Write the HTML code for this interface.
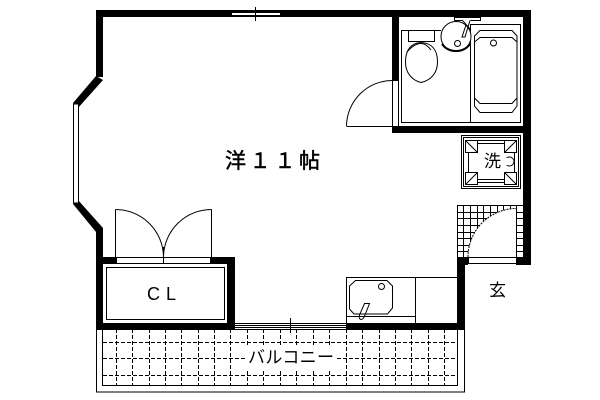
<!DOCTYPE html>
<html><head><meta charset="utf-8"><style>
html,body{margin:0;padding:0;background:#fff}
svg{display:block}
text{font-family:"Liberation Sans","Noto Sans CJK JP",sans-serif;fill:#000}
</style></head><body>
<svg width="600" height="400" viewBox="0 0 600 400" xmlns="http://www.w3.org/2000/svg">
<rect width="600" height="400" fill="#fff"/>
<!-- balcony -->
<g fill="none" stroke="#000" stroke-width="1" shape-rendering="crispEdges">
<rect x="96.5" y="329.5" width="368" height="62.5"/>
<path d="M102.5 329V385.5H457.5V329"/>
<g stroke-dasharray="4 2">
<path d="M103 342.5H457M103 358.5H457M103 375.5H457"/>
<path d="M116.5 329V385M132.5 329V385M149.5 329V385M165.5 329V385M181.5 329V385M198.5 329V385M214.5 329V385M230.5 329V385M247.5 329V385M263.5 329V385M280.5 329V385M296.5 329V385M313.5 329V385M329.5 329V385M346.5 329V385M362.5 329V385M379.5 329V385M395.5 329V385M411.5 329V385M428.5 329V385M444.5 329V385"/>
</g>
</g>
<rect x="247" y="346" width="88" height="24" fill="#fff"/>
<!-- tile -->
<g fill="none" stroke="#000" stroke-width="1" shape-rendering="crispEdges">
<path d="M457 205.5H523M457 212.5H523M457 218.500H523M457 225.500H523M457 232.500H523M457 238.500H523M457 245.500H523M457 251.500H523"/>
<path d="M457.500 205V257M463.500 205V257M470.500 205V257M477.500 205V257M483.500 205V257M490.500 205V257M497.500 205V257M503.500 205V257M510.500 205V257M516.500 205V257"/>
</g>
<path d="M468 257A48.500 48.500 0 0 1 516 208.500V257Z" fill="#fff" stroke="none"/>
<path d="M468 257A48.500 48.500 0 0 1 516.500 208.500" fill="none" stroke="#000" stroke-dasharray="2 1"/>
<!-- walls -->
<g fill="#000" shape-rendering="crispEdges">
<rect x="96" y="10" width="435" height="7"/>
<rect x="392" y="10" width="7" height="70"/>
<rect x="392" y="126" width="139" height="7"/>
<rect x="523" y="10" width="8" height="255"/>
<rect x="96" y="10" width="7" height="67"/>
<rect x="96" y="228" width="7" height="101"/>
<rect x="96" y="257" width="20" height="7"/>
<rect x="211" y="257" width="24" height="7"/>
<rect x="227" y="257" width="8" height="72"/>
<rect x="96" y="323" width="139" height="6"/>
<rect x="346" y="323" width="119" height="6"/>
<rect x="457" y="257" width="8" height="72"/>
<rect x="457" y="257" width="11" height="8"/>
<rect x="516" y="257" width="15" height="8"/>
</g>
<polygon points="96,76 103,80 78,108 73,103" fill="#000"/>
<polygon points="73,204 78,200 103,228 96,232" fill="#000"/>
<g fill="#fff" stroke="#000" shape-rendering="crispEdges">
<rect x="73.500" y="104" width="5" height="99"/>
<rect x="231.500" y="12.500" width="49" height="3"/>
<rect x="392.500" y="80.500" width="6" height="46"/>
<rect x="468.500" y="257.500" width="48" height="6"/>
<rect x="116.500" y="257.500" width="47" height="6"/>
<rect x="163.500" y="257.500" width="47" height="6"/>
</g>
<g fill="none" stroke="#000" stroke-width="1" shape-rendering="crispEdges">
<path d="M255.500 7V21"/>
<path d="M235 323.500H346M235 325.500H346M235 327.500H346M235 329.500H346M290.500 318V333"/>
<rect x="106.500" y="267.500" width="118" height="52"/>
<path d="M346.500 126.500H392"/>
<path d="M115.500 257V209.500M211.500 257V209.500M163.500 247V264"/>
<rect x="346.500" y="277.500" width="111" height="46"/>
<path d="M415.500 277V323M346 316.500H415"/>
</g>
<g fill="none" stroke="#000" stroke-width="1">
<path d="M346.500 126A46 46 0 0 1 392 80.500"/>
<path d="M115.500 209.500A48 48 0 0 1 163.500 257"/>
<path d="M211.500 209.500A48 48 0 0 0 163.500 257"/>
<path d="M355.500 280.500H387L392.500 286V308L387.500 314H354L349.500 309V286Z"/>
<circle cx="381.500" cy="286.500" r="3"/>
<path d="M369.500 303.500H364.500L359.500 315Q358.500 319 361 319.500Q363.500 319.500 365 315Z"/>
<!-- bathroom -->
<path d="M441 30.500H401.500V122.500H520.500V24.500H470.500V122.500"/>
<rect x="408.500" y="30.500" width="26" height="11" fill="#fff"/>
<path d="M421 82.500C411 80 405.500 72 405.500 62C405.500 50 411 43 421 42.500C432 43 437.500 50 437.500 62C437.500 72 432 80 421 82.500Z"/>
<path d="M407 52Q421 36 431 50"/>
<circle cx="456" cy="36.500" r="15" fill="#fff"/>
<path d="M442 44Q447 51 456 51Q465 51 470 44" stroke-width="2"/>
<circle cx="457.500" cy="43.500" r="3"/>
<path d="M454.500 20.500V17.500H480.500V20.500H470.500M454.500 20.500H462.500L471 30"/>
<path d="M470 20.500L465 37H462L466 25"/>
<path d="M480 30.500H512L517 36V106L512 112.500H480L474.500 106V36Z"/>
<path d="M474.500 42L480 37.500H512L517 42V98L512 103.500H480L474.500 98Z"/>
<circle cx="493.500" cy="43" r="3"/>
</g>
<!-- washer -->
<g fill="none" stroke="#000" stroke-width="1" shape-rendering="crispEdges">
<rect x="461.500" y="135.500" width="59" height="53"/>
<rect x="463.500" y="137.500" width="55" height="49"/>
<rect x="465.500" y="140.500" width="12" height="12"/>
<rect x="504.500" y="140.500" width="12" height="12"/>
<rect x="465.500" y="172.500" width="12" height="12"/>
<rect x="504.500" y="172.500" width="12" height="12"/>
<path d="M477 140.500H505M477 143.500H505M477 179.500H505M477 182.500H505M468.500 152V173M514.500 152V173"/>
</g>
<path d="M466 141L477 152M516 141L505 152M466 184L477 173M516 184L505 173" stroke="#000" fill="none"/>
<!-- labels -->
<text x="225" y="168" font-size="21" textLength="95" lengthAdjust="spacing" stroke="#000" stroke-width="0.5">洋１１帖</text>
<text x="484" y="167" font-size="17">洗</text>
<circle cx="509.500" cy="161.500" r="4.500" fill="none" stroke="#000"/>
<rect x="503" y="158" width="5" height="7" fill="#fff"/>
<text x="489" y="296" font-size="17">玄</text>
<text x="147" y="300" font-size="18" font-weight="normal">C</text>
<text x="166" y="300" font-size="18" font-weight="normal">L</text>
<text x="248" y="363" font-size="17" textLength="86" lengthAdjust="spacing">バルコニー</text>
</svg>
</body></html>
